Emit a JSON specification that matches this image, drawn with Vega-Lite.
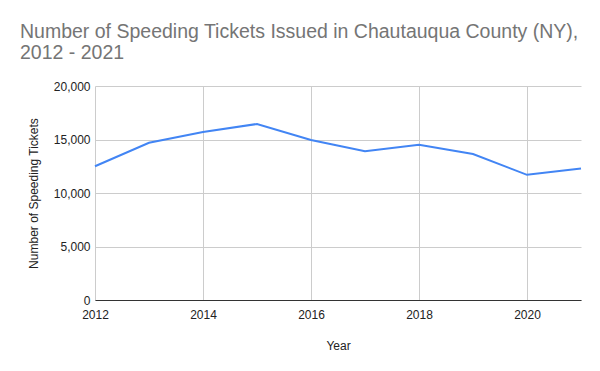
{
  "$schema": "https://vega.github.io/schema/vega-lite/v6.json",
  "width": 486,
  "height": 214,
  "autosize": {"type": "none"},
  "padding": {"left": 95, "top": 86, "right": 19, "bottom": 71},
  "background": "white",
  "title": {
    "text": ["Number of Speeding Tickets Issued in Chautauqua County (NY),", "2012 - 2021"],
    "anchor": "start",
    "frame": "group",
    "dx": -75,
    "offset": 17,
    "font": "Liberation Sans",
    "fontSize": 19.5,
    "fontWeight": "normal",
    "color": "#757575",
    "lineHeight": 21
  },
  "data": {
    "values": [
      {"Year": 2012, "Tickets": 12500},
      {"Year": 2013, "Tickets": 14700},
      {"Year": 2014, "Tickets": 15700},
      {"Year": 2015, "Tickets": 16450},
      {"Year": 2016, "Tickets": 14950},
      {"Year": 2017, "Tickets": 13900},
      {"Year": 2018, "Tickets": 14500},
      {"Year": 2019, "Tickets": 13650},
      {"Year": 2020, "Tickets": 11700},
      {"Year": 2021, "Tickets": 12300}
    ]
  },
  "mark": {"type": "line", "color": "#4285F4", "strokeWidth": 2},
  "encoding": {
    "x": {
      "field": "Year",
      "type": "quantitative",
      "scale": {"domain": [2012, 2021], "nice": false, "zero": false},
      "axis": {
        "values": [2012, 2014, 2016, 2018, 2020],
        "format": "d",
        "title": "Year",
        "grid": true,
        "gridColor": "#cccccc",
        "ticks": false,
        "domain": true,
        "domainColor": "#333333",
        "domainWidth": 1,
        "labelFlush": false,
        "labelFont": "Liberation Sans",
        "labelFontSize": 12,
        "labelColor": "#222222",
        "labelPadding": 9,
        "titleFont": "Liberation Sans",
        "titleFontSize": 12,
        "titleFontWeight": "normal",
        "titleColor": "#222222",
        "titleY": 45,
        "titleBaseline": "middle"
      }
    },
    "y": {
      "field": "Tickets",
      "type": "quantitative",
      "scale": {"domain": [0, 20000], "nice": false},
      "axis": {
        "values": [0, 5000, 10000, 15000, 20000],
        "format": ",d",
        "title": "Number of Speeding Tickets",
        "grid": true,
        "gridColor": "#cccccc",
        "ticks": false,
        "domain": false,
        "labelFlush": false,
        "labelFont": "Liberation Sans",
        "labelFontSize": 12,
        "labelColor": "#222222",
        "labelPadding": 5,
        "titleFont": "Liberation Sans",
        "titleFontSize": 12,
        "titleFontWeight": "normal",
        "titleColor": "#222222",
        "titleX": -62,
        "titleY": 107,
        "titleBaseline": "middle",
        "titleAlign": "center"
      }
    }
  },
  "config": {"view": {"stroke": null}}
}
